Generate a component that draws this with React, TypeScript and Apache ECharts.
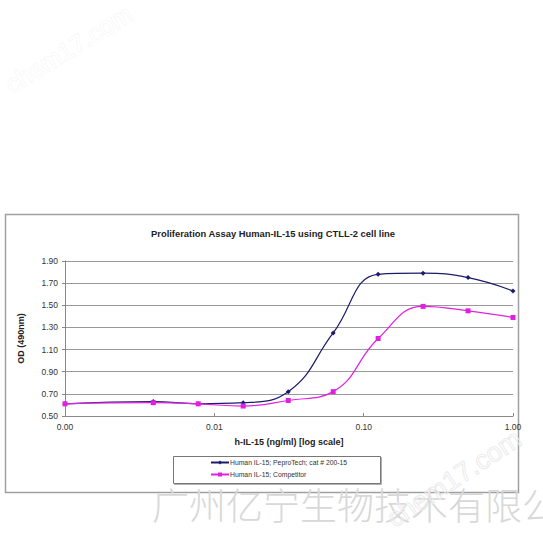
import React, { useEffect, useRef } from "react";
import * as echarts from "echarts";

const concentrations = [0.001, 0.0039, 0.0078, 0.0156, 0.03125, 0.0625, 0.125, 0.25, 0.5, 1];
const peprotech = [0.61, 0.63, 0.61, 0.62, 0.72, 1.25, 1.78, 1.79, 1.75, 1.63];
const competitor = [0.61, 0.62, 0.61, 0.59, 0.64, 0.72, 1.2, 1.49, 1.45, 1.39];
const seriesNames = ["Human IL-15; PeproTech; cat # 200-15", "Human IL-15; Competitor"];
const titleText = "Proliferation Assay Human-IL-15 using CTLL-2 cell line";
const xName = "h-IL-15 (ng/ml) [log scale]";
const yName = "OD (490nm)";
const watermarkCn = "广州亿宁生物技术有限公司";

export default function App() {
  const ref = useRef<HTMLDivElement>(null);
  useEffect(() => {
    if (!ref.current) return;
    const chart = echarts.init(ref.current, null, { renderer: "svg" });
    const font = "Liberation Sans, Arial, sans-serif";
    chart.setOption({
      animation: false,
      backgroundColor: "#ffffff",
      textStyle: { fontFamily: font },
      title: {
        text: titleText,
        left: 268,
        top: 224,
        textAlign: "center",
        textStyle: { fontSize: 9.4, fontWeight: "bold", color: "#222", fontFamily: font },
      },
      grid: { left: 65, right: 30, top: 261, bottom: 127 },
      xAxis: {
        type: "log",
        logBase: 10,
        min: 0.001,
        max: 1,
        name: xName,
        nameLocation: "middle",
        nameGap: 21,
        nameTextStyle: { fontSize: 9, fontWeight: "bold", color: "#222" },
        axisLine: { show: true, lineStyle: { color: "#888", width: 1 } },
        axisTick: { show: true, inside: true, length: 3, lineStyle: { color: "#888" } },
        minorTick: { show: false },
        splitLine: { show: false },
        axisLabel: {
          fontSize: 8.5,
          color: "#333",
          margin: 6,
          formatter: (v: number) => v.toFixed(2),
        },
      },
      yAxis: {
        type: "value",
        min: 0.5,
        max: 1.9,
        interval: 0.2,
        name: yName,
        nameLocation: "middle",
        nameGap: 40,
        nameRotate: 90,
        nameTextStyle: { fontSize: 9, fontWeight: "bold", color: "#222" },
        axisLine: { show: true, lineStyle: { color: "#888", width: 1 } },
        axisTick: { show: true, length: 3, lineStyle: { color: "#888" } },
        splitLine: { show: true, lineStyle: { color: "#999", width: 1 } },
        axisLabel: {
          fontSize: 8.5,
          color: "#333",
          margin: 7,
          formatter: (v: number) => v.toFixed(2),
        },
      },
      legend: {
        orient: "vertical",
        left: 210,
        top: 459,
        itemWidth: 18,
        itemHeight: 5,
        itemGap: 5,
        padding: 0,
        textStyle: { fontSize: 6.8, color: "#333", padding: [0, 0, 0, -4] },
        data: seriesNames,
      },
      graphic: [
        {
          type: "rect",
          shape: { x: 5.5, y: 214.5, width: 513, height: 278 },
          style: { fill: "none", stroke: "#a0a0a0", lineWidth: 1.5 },
          z: -1,
        },
        {
          type: "rect",
          shape: { x: 173.5, y: 456.5, width: 207, height: 27 },
          style: { fill: "#fff", stroke: "#777", lineWidth: 1, shadowColor: "rgba(0,0,0,0.3)", shadowOffsetX: 1, shadowOffsetY: 1, shadowBlur: 1 },
          z: -1,
        },
        {
          type: "text",
          x: 152,
          y: 485,
          style: {
            text: watermarkCn,
            fontSize: 37,
            fontFamily: "Noto Sans CJK SC",
            fontWeight: 200,
            fill: "#d8d8d8",
          },
          z: 10,
        },
        {
          type: "text",
          x: 14,
          y: 97,
          rotation: 0.55,
          style: {
            text: "chem17.com",
            fontSize: 25,
            fontFamily: font,
            textVerticalAlign: "bottom",
            fill: "#ffffff",
            stroke: "#f4f4f4",
            lineWidth: 1,
          },
        },
        {
          type: "text",
          x: 397,
          y: 532,
          rotation: 0.58,
          style: {
            text: "chem17.com",
            fontSize: 27,
            fontFamily: font,
            textVerticalAlign: "bottom",
            fill: "rgba(255,255,255,0)",
            stroke: "#ececec",
            lineWidth: 1,
          },
          z: 11,
        },
      ],
      series: [
        {
          name: seriesNames[0],
          type: "line",
          smooth: 0.45,
          data: concentrations.map((c, i) => [c, peprotech[i]]),
          symbol: "diamond",
          symbolSize: 5,
          lineStyle: { color: "#1c1c6c", width: 1.2 },
          itemStyle: { color: "#1c1c6c" },
          z: 3,
        },
        {
          name: seriesNames[1],
          type: "line",
          smooth: 0.45,
          data: concentrations.map((c, i) => [c, competitor[i]]),
          symbol: "rect",
          symbolSize: 5,
          lineStyle: { color: "#e020e0", width: 1.2 },
          itemStyle: { color: "#e020e0" },
          z: 4,
        },
      ],
    });
    return () => chart.dispose();
  }, []);
  return (
    <div
      ref={ref}
      style={{ position: "fixed", left: 0, top: 0, width: 543, height: 543 }}
    />
  );
}
